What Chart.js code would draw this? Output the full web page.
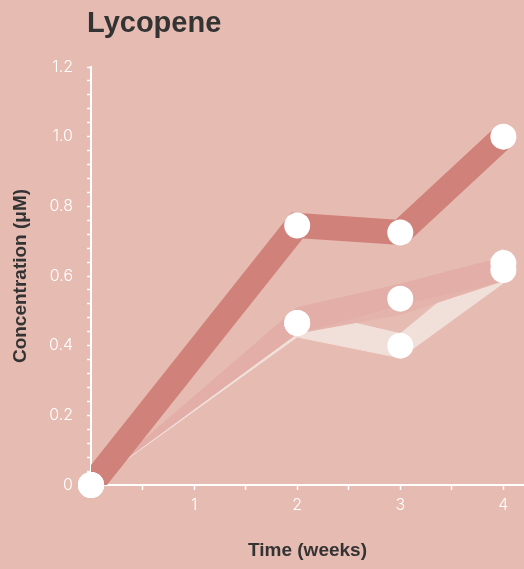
<!DOCTYPE html>
<html>
<head>
<meta charset="utf-8">
<script src="https://cdn.jsdelivr.net/npm/chart.js@4/dist/chart.umd.min.js"></script>
<style>
  html, body { margin: 0; padding: 0; background: #E6BBB2; }
  #wrap { position: relative; width: 524px; height: 569px; }
  #title {
    position: absolute; left: 87px; top: 6px;
    font: bold 29px "Liberation Sans", Arial, sans-serif; line-height: 32px;
    color: #333333;
  }
</style>
</head>
<body>
<div id="wrap">
  <div id="title">Lycopene</div>
  <canvas id="chart"></canvas>
</div>
<script>
// Lycopene concentration over time, three treatments drawn as ribbons

const weeks = [0, 2, 3, 4];

// dark series (drawn as a thick line)
const darkValues = [0, 0.745, 0.725, 1.0];

// medium series: points + ribbon edges (inner = lower edge of the darker part)
const mediumValues = [0, 0.465, 0.535, 0.617];
const mediumUpper = [0, 0.51, 0.578, 0.655];
const mediumInner = [0, 0.434, 0.515, 0.585];
const mediumLower = [0, 0.434, 0.488, 0.585];

// light series: points + ribbon edges
const lightValues = [0, 0.465, 0.40, 0.637];
const lightUpper = [0, 0.505, 0.436, 0.68];
const lightLower = [0, 0.425, 0.365, 0.58];

const yTickValues = [0, 0.2, 0.4, 0.6, 0.8, 1.0, 1.2];
const yTickLabels = ['0', '0.2', '0.4', '0.6', '0.8', '1.0', '1.2'];
const xTickLabels = ['1', '2', '3', '4'];

const colors = {
    dark: '#D0817A',
    medium: '#E2AEA7',
    mediumSoft: '#E4B4AC',
    light: '#F1DFDA',
    point: '#FFFFFF',
    axis: '#FFFFFF',
    text: '#333333'
};

const pts = arr => weeks.map((w, i) => ({ x: w, y: arr[i] }));

function pointSet(values) {
    return {
        data: pts(values),
        showLine: false,
        pointRadius: 13,
        pointHoverRadius: 13,
        pointBackgroundColor: colors.point,
        pointBorderWidth: 0,
        clip: false
    };
}

// upper edge filled down to the next dataset (the lower edge)
function ribbon(upper, lower, color) {
    return [
        { data: pts(upper), borderWidth: 0, pointRadius: 0, backgroundColor: color, fill: '+1' },
        { data: pts(lower), borderWidth: 0, pointRadius: 0, fill: false }
    ];
}

const tickFont = { family: 'Inter, "Liberation Sans", sans-serif', size: 16, weight: 300 };
const titleFont = { family: '"Liberation Sans", Arial, sans-serif', size: 19, weight: 'bold' };

new Chart(document.getElementById('chart'), {
    type: 'line',
    data: {
        datasets: [
            pointSet(darkValues),
            pointSet(mediumValues),
            pointSet(lightValues),
            {
                data: pts(darkValues),
                borderColor: colors.dark,
                borderWidth: 25,
                borderJoinStyle: 'miter',
                borderCapStyle: 'butt',
                pointRadius: 0,
                fill: false
            },
            ...ribbon(mediumUpper, mediumInner, colors.medium),
            ...ribbon(mediumUpper, mediumLower, colors.mediumSoft),
            ...ribbon(lightUpper, lightLower, colors.light),
            {
                data: pts(lightLower),
                borderColor: colors.light,
                borderWidth: 1,
                pointRadius: 0,
                fill: false
            }
        ]
    },
    options: {
        responsive: true,
        maintainAspectRatio: false,
        animation: false,
        layout: {
            autoPadding: false,
            padding: { top: 67, right: 0, left: 0, bottom: 0 }
        },
        plugins: {
            legend: { display: false },
            tooltip: { enabled: false }
        },
        scales: {
            x: {
                type: 'linear',
                min: 0,
                max: 4.2,
                afterFit: s => {
                    s.height = 84;
                    s.paddingLeft = 0;
                    s.paddingRight = 0;
                },
                afterBuildTicks: s => {
                    s.ticks = [0.5, 1, 1.5, 2, 2.5, 3, 3.5, 4].map(v => ({ value: v }));
                },
                border: { color: colors.axis, width: 2 },
                grid: {
                    drawOnChartArea: false,
                    color: colors.axis,
                    tickLength: 5,
                    tickWidth: 1.5
                },
                ticks: {
                    color: colors.axis,
                    font: tickFont,
                    padding: 6,
                    autoSkip: false,
                    maxRotation: 0,
                    callback: v => Number.isInteger(v) && v > 0 ? xTickLabels[v - 1] : ''
                },
                title: {
                    display: true,
                    text: 'Time (weeks)',
                    color: colors.text,
                    font: titleFont,
                    padding: { top: 0, bottom: 7 }
                }
            },
            y: {
                min: 0,
                max: 1.2,
                afterFit: s => { s.width = 91; },
                afterBuildTicks: s => {
                    const t = [];
                    for (let i = 0; i < yTickValues.length; i++) {
                        t.push({ value: yTickValues[i] });
                        if (i < yTickValues.length - 1) {
                            const step = (yTickValues[i + 1] - yTickValues[i]) / 5;
                            for (let k = 1; k < 5; k++) t.push({ value: yTickValues[i] + step * k });
                        }
                    }
                    s.ticks = t;
                },
                border: { color: colors.axis, width: 2 },
                grid: {
                    drawOnChartArea: false,
                    color: colors.axis,
                    tickLength: 4,
                    tickWidth: 1.5
                },
                ticks: {
                    color: colors.axis,
                    font: tickFont,
                    padding: 14,
                    autoSkip: false,
                    callback: v => {
                        const i = yTickValues.findIndex(t => Math.abs(t - v) < 1e-6);
                        return i >= 0 ? yTickLabels[i] : '';
                    }
                },
                title: {
                    display: true,
                    text: 'Concentration (μM)',
                    color: colors.text,
                    font: titleFont,
                    padding: { top: 9, bottom: 0 }
                }
            }
        }
    }
});
</script>
</body>
</html>
